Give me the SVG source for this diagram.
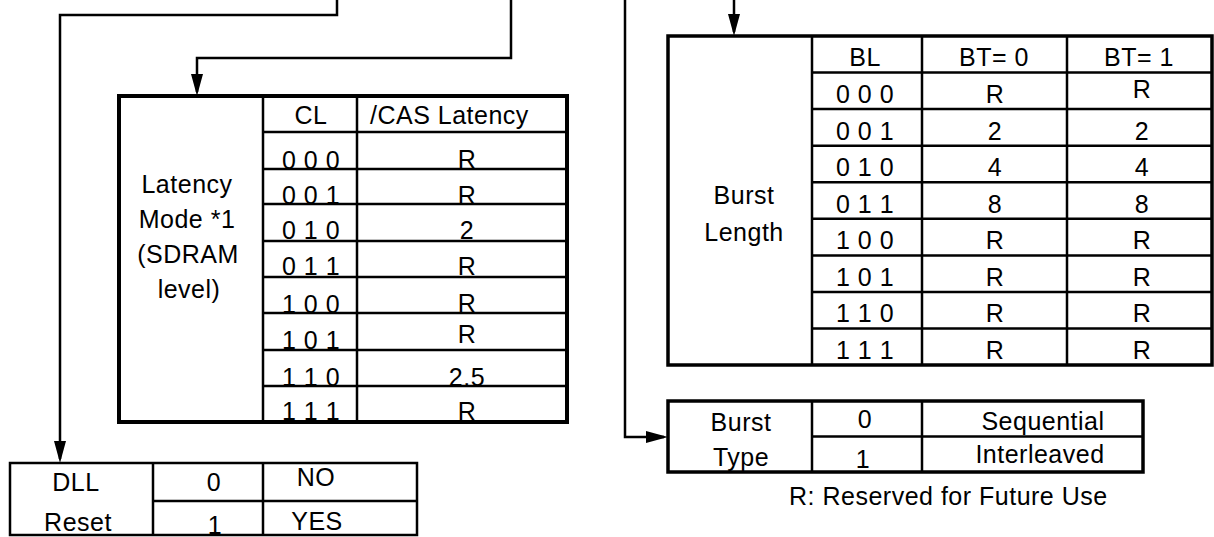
<svg xmlns="http://www.w3.org/2000/svg" width="1214" height="537" viewBox="0 0 1214 537">
<style>
  text { font-family: "Liberation Sans", Arial, sans-serif; font-size: 25px; letter-spacing: 0.5px; fill: #000; }
  .m { text-anchor: middle; }
  .outer { fill: #fff; stroke: #000; stroke-width: 4; }
  .outer3 { fill: #fff; stroke: #000; stroke-width: 3.5; }
  .outer2 { fill: #fff; stroke: #000; stroke-width: 2.5; }
  .grid { stroke: #000; stroke-width: 2.5; fill: none; }
  .conn { stroke: #000; stroke-width: 2.5; fill: none; marker-end: url(#arrow); }
</style>
<defs>
  <marker id="arrow" markerUnits="userSpaceOnUse" markerWidth="22" markerHeight="12" refX="18" refY="6" orient="auto">
    <path d="M0,0 L22,6 L0,12 Z" fill="#000"/>
  </marker>
</defs>
<rect width="1214" height="537" fill="#fff"/>

<g id="connectors">
  <path class="conn" d="M337,0 V15 H60 V459"/>
  <path class="conn" d="M511,0 V58 H197 V92"/>
  <path class="conn" d="M734,0 V32"/>
  <path class="conn" d="M625,0 V437 H664"/>
</g>

<g id="latency-mode">
  <rect class="outer" x="119" y="96" width="448" height="326"/>
  <path class="grid" d="M263,96 V422 M357,96 V422 M263,132 H567 M263,169 H567 M263,204 H567 M263,241 H567 M263,277 H567 M263,313 H567 M263,350 H567 M263,386 H567"/>
  <text class="m" x="187" y="193">Latency</text>
  <text class="m" x="187" y="228">Mode *1</text>
  <text class="m" x="188" y="263">(SDRAM</text>
  <text class="m" x="189" y="298">level)</text>
  <text class="m" x="311" y="124">CL</text>
  <text x="370" y="124">/CAS Latency</text>
  <text class="m" x="311" y="169">0 0 0</text>
  <text class="m" x="311" y="204">0 0 1</text>
  <text class="m" x="311" y="239">0 1 0</text>
  <text class="m" x="311" y="275">0 1 1</text>
  <text class="m" x="311" y="313">1 0 0</text>
  <text class="m" x="311" y="349">1 0 1</text>
  <text class="m" x="311" y="386">1 1 0</text>
  <text class="m" x="311" y="420">1 1 1</text>
  <text class="m" x="467" y="168">R</text>
  <text class="m" x="467" y="204">R</text>
  <text class="m" x="467" y="239">2</text>
  <text class="m" x="467" y="275">R</text>
  <text class="m" x="467" y="312">R</text>
  <text class="m" x="467" y="343">R</text>
  <text class="m" x="467" y="386">2.5</text>
  <text class="m" x="467" y="420">R</text>
</g>

<g id="burst-length">
  <rect class="outer3" x="668" y="36" width="544" height="329"/>
  <path class="grid" d="M812,36 V365 M922,36 V365 M1067,36 V365 M812,72.6 H1212 M812,109.1 H1212 M812,145.7 H1212 M812,182.2 H1212 M812,218.8 H1212 M812,255.4 H1212 M812,291.9 H1212 M812,328.4 H1212"/>
  <text class="m" x="744" y="204">Burst</text>
  <text class="m" x="744" y="241">Length</text>
  <text class="m" x="865" y="66">BL</text>
  <text class="m" x="994" y="66">BT= 0</text>
  <text class="m" x="1139" y="66">BT= 1</text>
  <text class="m" x="865" y="103">0 0 0</text>
  <text class="m" x="865" y="140">0 0 1</text>
  <text class="m" x="865" y="176">0 1 0</text>
  <text class="m" x="865" y="213">0 1 1</text>
  <text class="m" x="865" y="249">1 0 0</text>
  <text class="m" x="865" y="286">1 0 1</text>
  <text class="m" x="865" y="322">1 1 0</text>
  <text class="m" x="865" y="359">1 1 1</text>
  <text class="m" x="995" y="103">R</text>
  <text class="m" x="995" y="140">2</text>
  <text class="m" x="995" y="176">4</text>
  <text class="m" x="995" y="213">8</text>
  <text class="m" x="995" y="249">R</text>
  <text class="m" x="995" y="286">R</text>
  <text class="m" x="995" y="322">R</text>
  <text class="m" x="995" y="359">R</text>
  <text class="m" x="1142" y="98">R</text>
  <text class="m" x="1142" y="140">2</text>
  <text class="m" x="1142" y="176">4</text>
  <text class="m" x="1142" y="213">8</text>
  <text class="m" x="1142" y="249">R</text>
  <text class="m" x="1142" y="286">R</text>
  <text class="m" x="1142" y="322">R</text>
  <text class="m" x="1142" y="359">R</text>
</g>

<g id="burst-type">
  <rect class="outer3" x="668" y="401" width="475" height="71"/>
  <path class="grid" d="M812,401 V472 M922,401 V472 M812,436.5 H1143"/>
  <text class="m" x="741" y="431">Burst</text>
  <text class="m" x="741" y="466">Type</text>
  <text class="m" x="865" y="428">0</text>
  <text class="m" x="863" y="468">1</text>
  <text class="m" x="1043" y="430">Sequential</text>
  <text class="m" x="1040" y="463">Interleaved</text>
</g>

<g id="note">
  <text x="789" y="505">R: Reserved for Future Use</text>
</g>

<g id="dll-reset">
  <rect class="outer2" x="10" y="463" width="407" height="72"/>
  <path class="grid" d="M153,463 V535 M263,463 V535 M153,501 H417"/>
  <text class="m" x="76" y="491">DLL</text>
  <text class="m" x="78" y="531">Reset</text>
  <text class="m" x="214" y="491">0</text>
  <text class="m" x="215" y="534">1</text>
  <text class="m" x="316" y="486">NO</text>
  <text class="m" x="317" y="530">YES</text>
</g>
</svg>
